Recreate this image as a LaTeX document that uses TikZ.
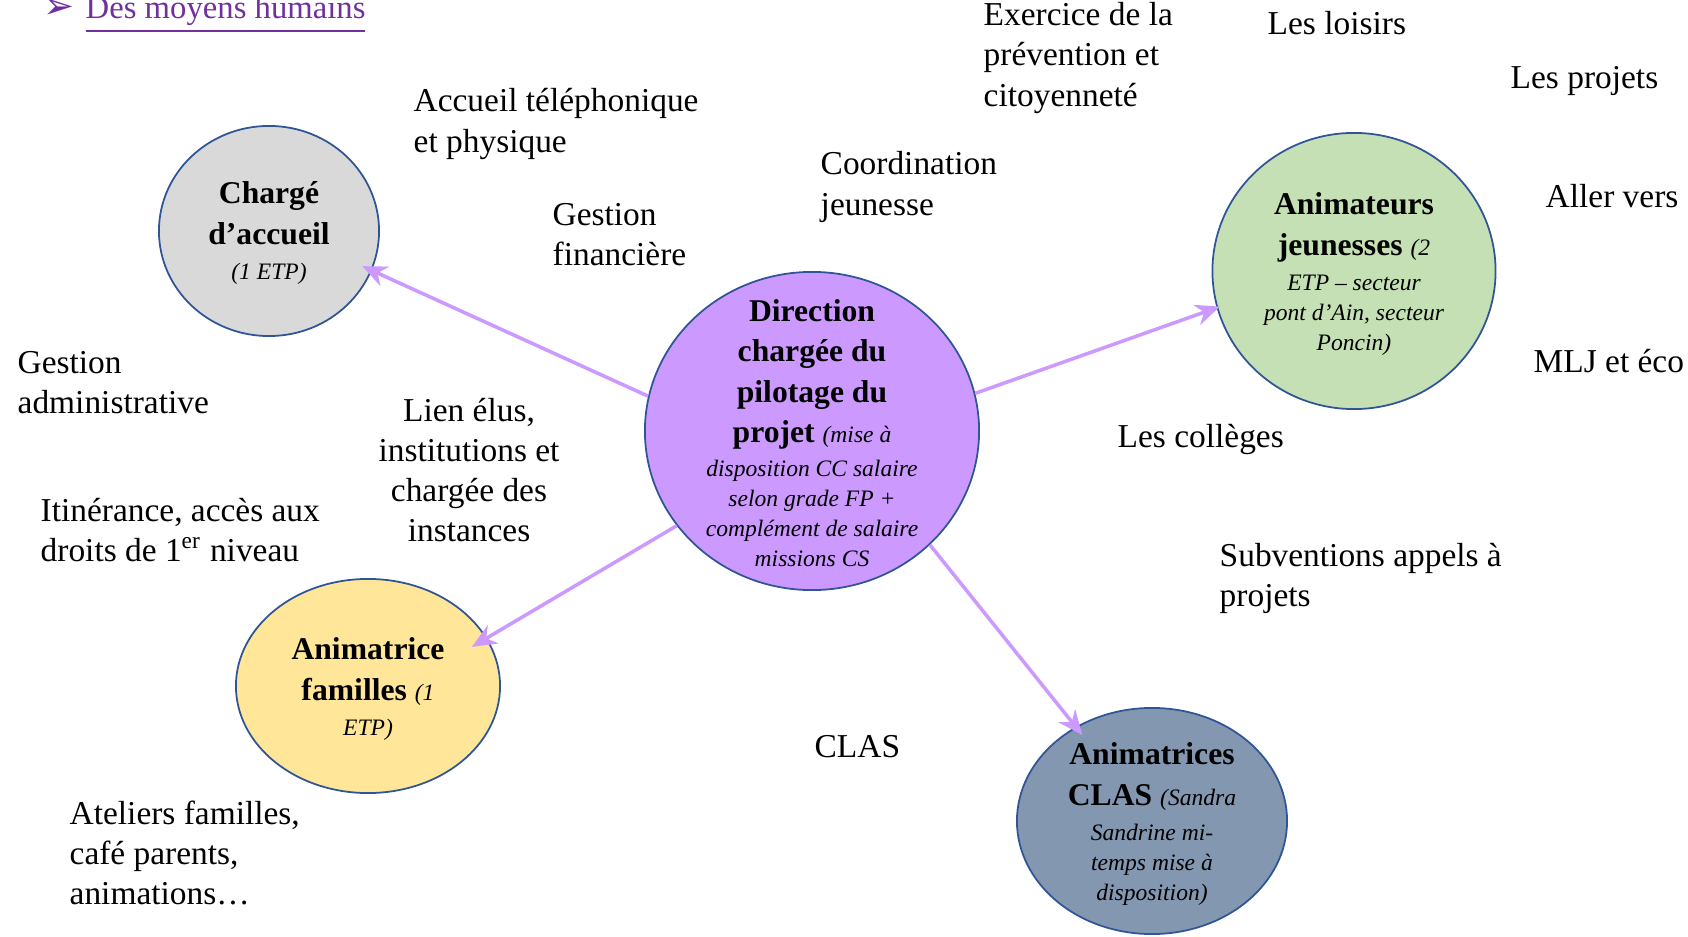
\documentclass[tikz,border=0pt]{standalone}
\usepackage{fontspec}
\setmainfont{Liberation Serif}
\newfontfamily\symbfont{DejaVu Sans}
\usetikzlibrary{arrows.meta, shapes.geometric, positioning}

\definecolor{violetfleche}{HTML}{CC99FF}
\definecolor{bordbleu}{HTML}{2F5597}
\definecolor{grisacc}{HTML}{D9D9D9}
\definecolor{violetdir}{HTML}{CC99FF}
\definecolor{vertjeun}{HTML}{C5E0B4}
\definecolor{jaunefam}{HTML}{FFE699}
\definecolor{bleuclas}{HTML}{8497B0}
\definecolor{titre}{HTML}{7030A0}

\newcommand{\petit}{\fontsize{6.7}{8.5}\selectfont\mdseries\itshape}

\begin{document}
\begin{tikzpicture}[x=0.01cm, y=-0.01cm,
    rond/.style={ellipse, draw=bordbleu, line width=0.5pt, inner sep=0pt},
    dedans/.style={align=center, font=\fontsize{9}{11.5}\selectfont\bfseries},
    etiq/.style={align=left, anchor=west, inner sep=0pt, font=\fontsize{9.5}{11.4}\selectfont},
    fleche/.style={draw=violetfleche, line width=1pt, -{Stealth[length=7pt, width=6pt]}}]
                    \useasboundingbox (0,0) rectangle (1688,937);

                    % titre
                    \node[anchor=base west, inner sep=0pt, text=titre, font=\symbfont\bfseries\fontsize{10.5}{12}\selectfont] (puce) at (43, 19) {➢};
                    \node[anchor=base west, inner sep=0pt, text=titre, font=\fontsize{9.3}{11}\selectfont] (titre) at (85, 19) {\underline{Des moyens humains}};

                    % cercles
                    \node[rond, fill=grisacc, minimum width=2.20cm, minimum height=2.10cm] (accueil) at (269, 231) {};
                    \node[rond, fill=violetdir, minimum width=3.34cm, minimum height=3.18cm] (dir) at (812, 431) {};
                    \node[rond, fill=vertjeun, minimum width=2.83cm, minimum height=2.76cm] (jeunes) at (1354, 271) {};
                    \node[rond, fill=jaunefam, minimum width=2.64cm, minimum height=2.14cm] (familles) at (368, 686) {};
                    \node[rond, fill=bleuclas, minimum width=2.70cm, minimum height=2.26cm] (clas) at (1152, 821) {};

                    \node[dedans] (accueiltxt) at (269, 233) {Chargé\\ d’accueil\\[-1.5pt] {\petit(1 ETP)}};
                    \node[dedans] (dirtxt) at (812, 433) {Direction\\ chargée du\\ pilotage du\\ projet {\petit(mise à}\\[-1.8pt]
                        {\petit disposition CC salaire}\\[-3pt] {\petit selon grade FP +}\\[-3pt]
                        {\petit complément de salaire}\\[-3pt] {\petit missions CS}};
                    \node[dedans] (jeunestxt) at (1354, 274) {Animateurs\\ jeunesses {\petit(2}\\[-1.5pt] {\petit ETP – secteur}\\[-3pt]
                        {\petit pont d’Ain, secteur}\\[-3pt] {\petit Poncin)}};
                    \node[dedans] (famillestxt) at (368, 689) {Animatrice\\ familles {\petit(1}\\[-1.5pt] {\petit ETP)}};
                    \node[dedans] (clastxt) at (1152, 824) {Animatrices\\ CLAS {\petit(Sandra}\\[-1.5pt] {\petit Sandrine mi-}\\[-3pt]
                        {\petit temps mise à}\\[-3pt] {\petit disposition)}};

                    % fleches
                    \foreach \cible/\depart/\arrivee/\ecart in {accueil/168/-21/-3pt, familles/215.6/22.5/-5pt, jeunes/13/195/-1pt, clas/-44/129/-3pt} {
                        \draw[fleche, shorten >=\ecart] (dir.\depart) -- (\cible.\arrivee);
                    }

                    % missions
                    \node[etiq] (telephone) at (413, 124) {Accueil téléphonique\\ et physique};
                    \node[etiq] (finance) at (552, 235) {Gestion\\ financière};
                    \node[etiq] (coordination) at (820, 187) {Coordination\\ jeunesse};
                    \node[etiq] (prevention) at (983, 58) {Exercice de la\\ prévention et\\ citoyenneté};
                    \node[etiq] (loisirs) at (1267, 23) {Les loisirs};
                    \node[etiq] (projets) at (1510, 81) {Les projets};
                    \node[etiq] (allervers) at (1545, 196) {Aller vers};
                    \node[etiq] (mlj) at (1533, 361) {MLJ et éco};
                    \node[etiq] (colleges) at (1117, 439) {Les collèges};
                    \node[etiq] (subventions) at (1219, 578) {Subventions appels à\\ projets};
                    \node[etiq] (clasmission) at (814, 747) {CLAS};
                    \node[etiq] (administratif) at (17, 383) {Gestion\\ administrative};
                    \node[etiq, align=center, anchor=center] (elus) at (469, 470) {Lien élus,\\ institutions et\\ chargée des\\ instances};
                    \node[etiq] (itinerance) at (40, 530) {Itinérance, accès aux\\ droits de 1\textsuperscript{er} niveau};
                    \node[etiq] (ateliers) at (69, 853) {Ateliers familles,\\ café parents,\\ animations…};
                \end{tikzpicture}
\end{document}
